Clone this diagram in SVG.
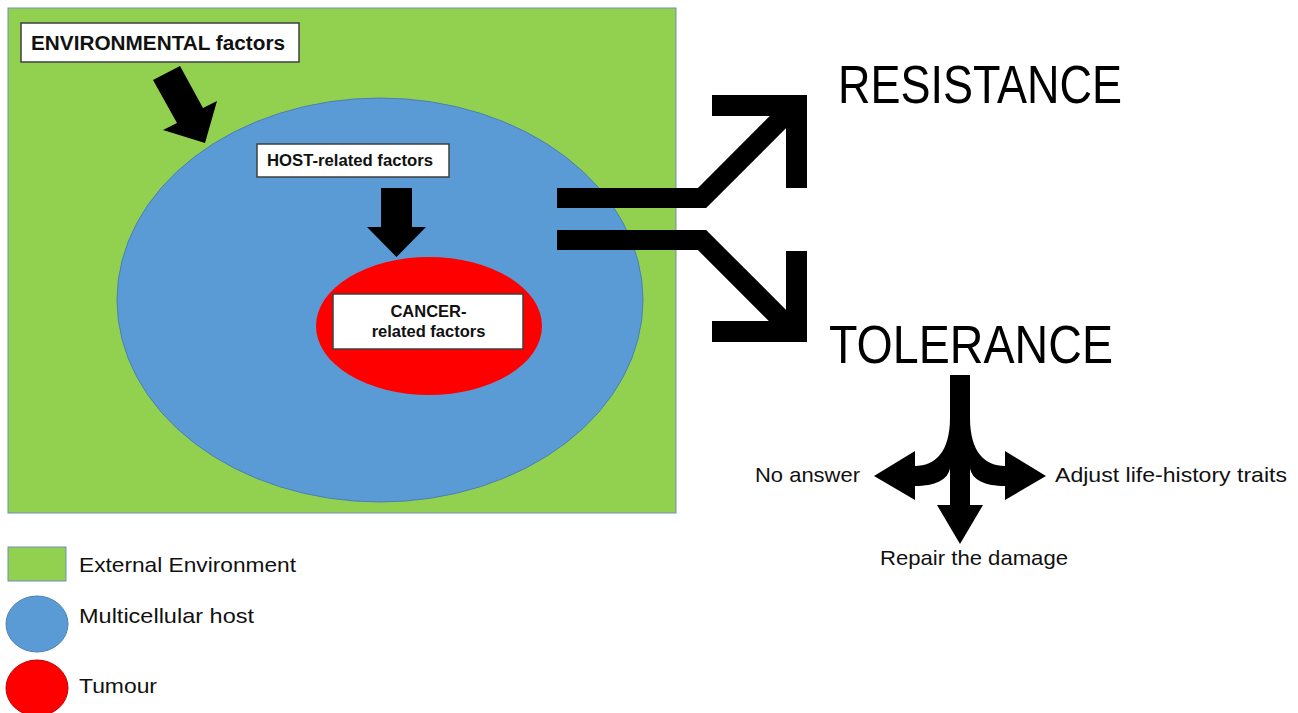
<svg xmlns="http://www.w3.org/2000/svg" width="1298" height="713" viewBox="0 0 1298 713">
<style>
.box{fill:#ffffff;stroke:#3f3f3f;stroke-width:1.5}
.bt{font-family:"Liberation Sans",Arial,sans-serif;font-weight:bold;fill:#111}
.t{font-family:"Liberation Sans",Arial,sans-serif;fill:#111}
.big{font-family:"Liberation Sans",Arial,sans-serif;font-size:53px;fill:#000}
.blk{fill:#000}
.ln{fill:none;stroke:#000;stroke-linejoin:miter;stroke-linecap:butt}
</style>
<rect width="1298" height="713" fill="#ffffff"/>
<g id="environment">
<rect x="8" y="8" width="668" height="505" fill="#92D050" stroke="#6f8fb5" stroke-width="1"/>
</g>
<g id="host">
<ellipse cx="380" cy="300" rx="263" ry="202" fill="#5B9BD5" stroke="#4a80b3" stroke-width="1"/>
</g>
<g id="tumour">
<ellipse cx="429" cy="326" rx="113" ry="69" fill="#FF0000"/>
</g>
<g id="env-factors">
<rect class="box" x="21" y="23" width="278" height="39"/>
<text class="bt" x="31" y="50" font-size="20" textLength="254" lengthAdjust="spacingAndGlyphs">ENVIRONMENTAL factors</text>
</g>
<g id="host-factors">
<rect class="box" x="257" y="144" width="192" height="33"/>
<text class="bt" x="267" y="166" font-size="16" textLength="166" lengthAdjust="spacingAndGlyphs">HOST-related factors</text>
</g>
<g id="cancer-factors">
<rect class="box" x="333" y="294" width="190" height="55"/>
<text class="bt" x="428.5" y="317" font-size="16.5" text-anchor="middle">CANCER-</text>
<text class="bt" x="428.5" y="337" font-size="16.5" text-anchor="middle">related factors</text>
</g>
<g id="resistance">
<text class="big" x="838" y="103" textLength="284" lengthAdjust="spacingAndGlyphs">RESISTANCE</text>
</g>
<g id="tolerance">
<text class="big" x="829" y="363" textLength="284" lengthAdjust="spacingAndGlyphs">TOLERANCE</text>
</g>
<g id="no-answer">
<text class="t" x="755" y="482" font-size="21" textLength="105" lengthAdjust="spacingAndGlyphs">No answer</text>
</g>
<g id="adjust">
<text class="t" x="1055" y="482" font-size="21" textLength="232" lengthAdjust="spacingAndGlyphs">Adjust life-history traits</text>
</g>
<g id="repair">
<text class="t" x="880" y="565" font-size="21" textLength="188" lengthAdjust="spacingAndGlyphs">Repair the damage</text>
</g>
<g id="connectors">
<polygon class="blk" points="153,80 180,66 203,108 217,101 205,143 163,130 177,123"/>
<polygon class="blk" points="381,188 412,188 412,227 426,227 396.5,257 367,227 381,227"/>
<polyline class="ln" stroke-width="20" points="557,198 702,198 794,106"/>
<polyline class="ln" stroke-width="21" points="712,105.5 796.5,105.5 796.5,188"/>
<polyline class="ln" stroke-width="20" points="557,240 702,240 794,332"/>
<polyline class="ln" stroke-width="21" points="712,331.5 796.5,331.5 796.5,251"/>
<path class="blk" d="M950,375 L970,375 L970,418 C970,452 985,466 1005,466 L1005,451 L1046,476 L1005,500 L1005,486 C985,486 972,480 970,468 L970,505 L983,505 L960,544 L937,505 L950,505 L950,468 C948,480 935,486 915,486 L915,500 L874,476 L915,451 L915,466 C935,466 950,452 950,418 Z"/>
</g>
<g id="legend-environment">
<rect x="8" y="547" width="58" height="34" fill="#92D050" stroke="#6f8fb5" stroke-width="1"/>
<text class="t" x="79" y="572" font-size="21" textLength="217" lengthAdjust="spacingAndGlyphs">External Environment</text>
</g>
<g id="legend-host">
<ellipse cx="37" cy="624" rx="31" ry="28" fill="#5B9BD5" stroke="#4a80b3" stroke-width="1"/>
<text class="t" x="79" y="623" font-size="21" textLength="175" lengthAdjust="spacingAndGlyphs">Multicellular host</text>
</g>
<g id="legend-tumour">
<ellipse cx="37" cy="688" rx="31" ry="28" fill="#FF0000" stroke="#c00000" stroke-width="1"/>
<text class="t" x="79" y="693" font-size="21" textLength="78" lengthAdjust="spacingAndGlyphs">Tumour</text>
</g>
</svg>
